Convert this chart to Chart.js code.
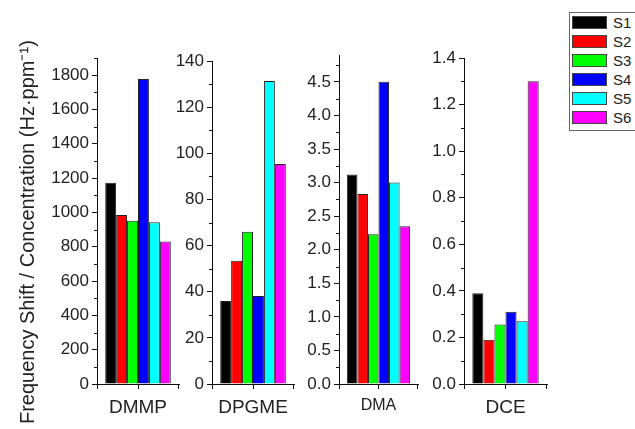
<!DOCTYPE html>
<html lang="en">
<head>
<meta charset="UTF-8">
<title>Frequency shift per concentration</title>
<script src="https://cdn.jsdelivr.net/npm/chart.js"></script>
<style>
  body { margin: 0; background: #fff; font-family: Arial, "Liberation Sans", sans-serif; }
  #wrap { position: relative; width: 635px; height: 429px; overflow: hidden; }
  .panel { position: absolute; top: 0; height: 429px; }
  #legend { position: absolute; left: 569px; top: 12px; width: 70px; border: 1px solid #666; padding: 0 0 3px 2px; }
  .item { display: flex; align-items: center; height: 19px; font-size: 15px; color: #222; }
  .sw { width: 35px; height: 13px; margin-right: 6px; border: 1px solid #444; box-sizing: border-box; }
</style>
</head>
<body>
<div id="wrap">
  <div class="panel" id="p0"><canvas id="c0"></canvas></div>
  <div class="panel" id="p1"><canvas id="c1"></canvas></div>
  <div class="panel" id="p2"><canvas id="c2"></canvas></div>
  <div class="panel" id="p3"><canvas id="c3"></canvas></div>
  <div id="legend"></div>
</div>
<script>
  const categories = ['DMMP', 'DPGME', 'DMA', 'DCE'];
  const seriesNames = ['S1', 'S2', 'S3', 'S4', 'S5', 'S6'];
  const seriesColors = ['#000000', '#ff0000', '#00ff00', '#0000ff', '#00ffff', '#ff00ff'];

  // one value per analyte: DMMP, DPGME, DMA, DCE
  const s1 = [1173, 36.0, 3.12, 0.39];
  const s2 = [985, 53.4, 2.83, 0.19];
  const s3 = [952, 66.0, 2.23, 0.256];
  const s4 = [1777, 38.1, 4.50, 0.31];
  const s5 = [942, 131.3, 3.00, 0.27];
  const s6 = [831, 95.4, 2.35, 1.30];

  const yMax = [1900, 140, 4.9, 1.4];
  const yStep = [200, 20, 0.5, 0.2];
  const yDecimals = [0, 0, 1, 1];

  // trailing nbsp pushes the centred title a little lower, as in the figure
  const yTitle = 'Frequency Shift / Concentration (Hz\u00b7ppm\u207b\u00b9)\u00a0\u00a0\u00a0\u00a0';

  const values = [s1, s2, s3, s4, s5, s6];
  const family = 'Arial, "Liberation Sans", sans-serif';

  // canvas placement for each panel
  const panels = [
    { left: 0, width: 180, axisW: 97, top: 58, right: 1, catFont: 19 },
    { left: 150, width: 146, axisW: 62, top: 61, right: 2, catFont: 19 },
    { left: 280, width: 140, axisW: 59, top: 55, right: 2, catFont: 16 },
    { left: 410, width: 140, axisW: 54, top: 58, right: 3, catFont: 19 }
  ];

  // short minor ticks on the y axis, and end ticks on the x axis
  const minorTicks = {
    id: 'minorTicks',
    afterDraw(chart, args, opts) {
      const y = chart.scales.y;
      const a = chart.chartArea;
      const ctx = chart.ctx;
      ctx.save();
      ctx.strokeStyle = '#111';
      ctx.lineWidth = 1;
      ctx.beginPath();
      for (let k = 0; (2 * k + 1) * opts.step / 2 <= y.max + 1e-9; k++) {
        const py = Math.round(y.getPixelForValue((2 * k + 1) * opts.step / 2)) + 0.5;
        ctx.moveTo(a.left, py);
        ctx.lineTo(a.left - 3, py);
      }
      ctx.moveTo(Math.round(a.left) + 0.5, a.bottom);
      ctx.lineTo(Math.round(a.left) + 0.5, a.bottom + 5);
      ctx.moveTo(Math.round(a.right) - 0.5, a.bottom);
      ctx.lineTo(Math.round(a.right) - 0.5, a.bottom + 5);
      ctx.stroke();
      ctx.restore();
    }
  };

  panels.forEach((p, i) => {
    const box = document.getElementById('p' + i);
    box.style.left = p.left + 'px';
    box.style.width = p.width + 'px';

    new Chart(document.getElementById('c' + i), {
      type: 'bar',
      data: {
        labels: [categories[i]],
        datasets: seriesNames.map((name, k) => ({
          label: name,
          data: [values[k][i]],
          backgroundColor: seriesColors[k],
          borderColor: '#222',
          borderWidth: 1,
          categoryPercentage: 0.8,
          barPercentage: 1
        }))
      },
      options: {
        responsive: true,
        maintainAspectRatio: false,
        animation: false,
        layout: { padding: { top: p.top, right: p.right, left: 0, bottom: 0 } },
        plugins: {
          legend: { display: false },
          tooltip: { enabled: false },
          minorTicks: { step: yStep[i] }
        },
        scales: {
          x: {
            afterFit: s => { s.height = 45; },
            border: { color: '#111', width: 1 },
            grid: { drawOnChartArea: false, offset: false, tickLength: 5, color: '#111' },
            ticks: { padding: 7, color: '#222', font: { size: p.catFont, family: family } }
          },
          y: {
            min: 0,
            max: yMax[i],
            afterFit: s => { s.width = p.axisW; },
            border: { color: '#111', width: 1 },
            grid: { drawOnChartArea: false, tickLength: 5, color: '#111' },
            ticks: {
              stepSize: yStep[i],
              includeBounds: false,
              padding: 3,
              color: '#222',
              font: { size: 17, family: family },
              callback: v => Number(v).toFixed(yDecimals[i])
            },
            title: {
              display: i === 0,
              text: yTitle,
              color: '#222',
              font: { size: 20, family: family },
              padding: { top: 16, bottom: 0 }
            }
          }
        }
      },
      plugins: [minorTicks]
    });
  });

  // legend
  const legend = document.getElementById('legend');
  seriesNames.forEach((name, k) => {
    const row = document.createElement('div');
    row.className = 'item';
    row.innerHTML = '<span class="sw" style="background:' + seriesColors[k] + '"></span>' + name;
    legend.appendChild(row);
  });
</script>
</body>
</html>
